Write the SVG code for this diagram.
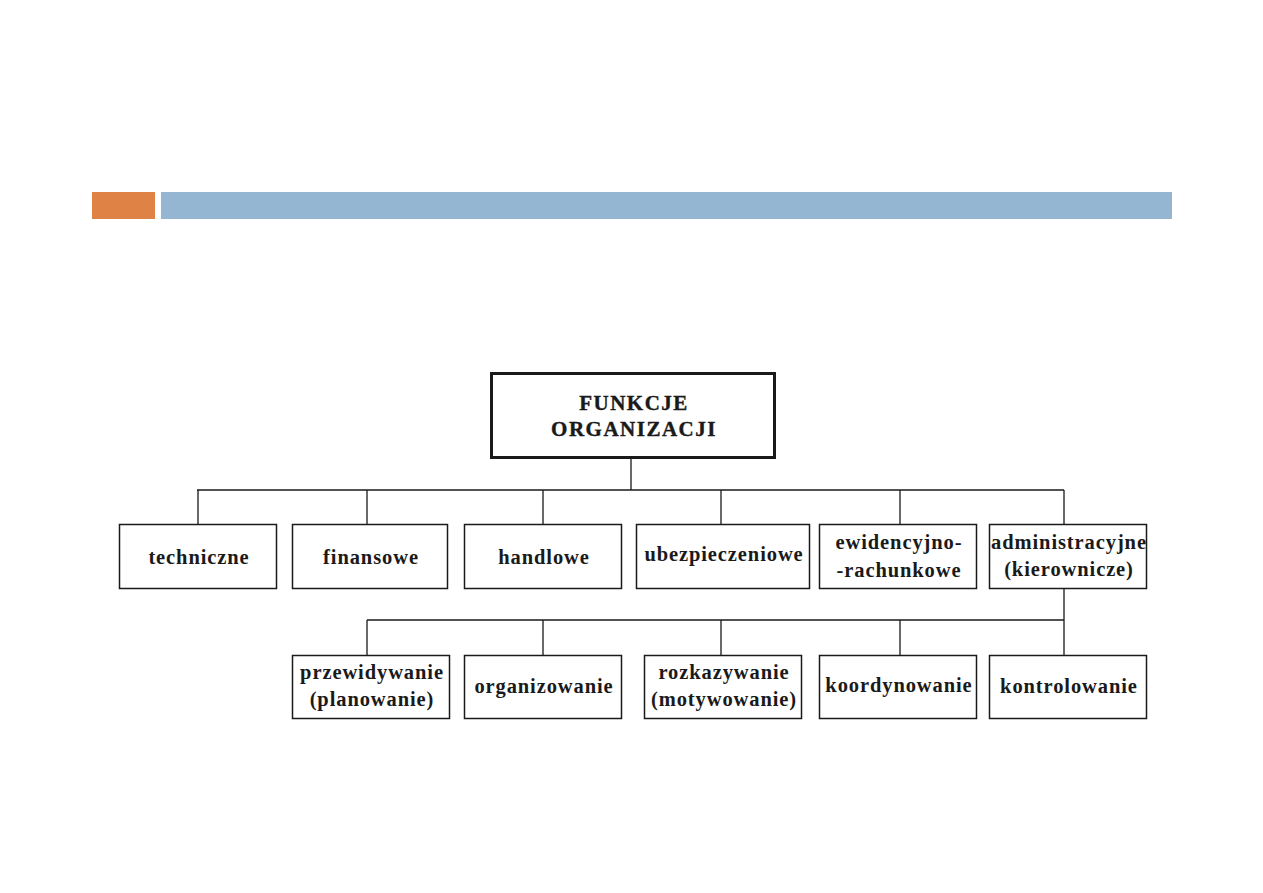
<svg xmlns="http://www.w3.org/2000/svg" width="1263" height="893" viewBox="0 0 1263 893">
<style>
.box{fill:#fff;stroke:#1a1a1a;stroke-width:1.5}
.top{fill:#fff;stroke:#1a1a1a;stroke-width:3}
.lbl{font-family:"Liberation Serif","DejaVu Serif",serif;font-weight:bold;font-size:20.5px;letter-spacing:0.9px;fill:#1a1a1a;text-anchor:middle}
.ttl{font-family:"Liberation Serif","DejaVu Serif",serif;font-weight:bold;font-size:21px;letter-spacing:1.5px;fill:#1a1a1a;text-anchor:middle;stroke:#1a1a1a;stroke-width:0.4}
.con{fill:none;stroke:#1a1a1a;stroke-width:1.3}
</style>
<rect width="1263" height="893" fill="#fff"/>
<rect x="92" y="192" width="63" height="27" fill="#df8246"/>
<rect x="161" y="192" width="1011" height="27" fill="#95b6d3"/>
<g id="connectors">
<path class="con" d="M631 458V490M197 490H1064M198 490V524M367 490V524M543 490V524M721 490V524M900 490V524M1064 490V524"/>
<path class="con" d="M1064 588V655M367 620H1064M367 620V655M543 620V655M721 620V655M900 620V655"/>
</g>
<g id="n-root"><rect class="top" x="491.5" y="373.5" width="283" height="84"/><text class="ttl" x="634" y="410">FUNKCJE</text><text class="ttl" x="634" y="436">ORGANIZACJI</text></g>
<g id="n-techniczne"><rect class="box" x="119.5" y="524.5" width="157" height="64"/><text class="lbl" x="199" y="564">techniczne</text></g>
<g id="n-finansowe"><rect class="box" x="292.5" y="524.5" width="155" height="64"/><text class="lbl" x="371" y="564">finansowe</text></g>
<g id="n-handlowe"><rect class="box" x="464.5" y="524.5" width="157" height="64"/><text class="lbl" x="544" y="564">handlowe</text></g>
<g id="n-ubezpieczeniowe"><rect class="box" x="636.5" y="524.5" width="173" height="64"/><text class="lbl" x="724" y="561">ubezpieczeniowe</text></g>
<g id="n-ewidencyjno"><rect class="box" x="819.5" y="524.5" width="157" height="64"/><text class="lbl" x="899" y="549">ewidencyjno-</text><text class="lbl" x="899" y="577">-rachunkowe</text></g>
<g id="n-administracyjne"><rect class="box" x="989.5" y="524.5" width="157" height="64"/><text class="lbl" x="1069" y="549">administracyjne</text><text class="lbl" x="1069" y="576">(kierownicze)</text></g>
<g id="n-przewidywanie"><rect class="box" x="292.5" y="655.5" width="157" height="63"/><text class="lbl" x="372" y="679">przewidywanie</text><text class="lbl" x="372" y="706">(planowanie)</text></g>
<g id="n-organizowanie"><rect class="box" x="464.5" y="655.5" width="157" height="63"/><text class="lbl" x="544" y="693">organizowanie</text></g>
<g id="n-rozkazywanie"><rect class="box" x="644.5" y="655.5" width="157" height="63"/><text class="lbl" x="724" y="679">rozkazywanie</text><text class="lbl" x="724" y="706">(motywowanie)</text></g>
<g id="n-koordynowanie"><rect class="box" x="819.5" y="655.5" width="157" height="63"/><text class="lbl" x="899" y="692">koordynowanie</text></g>
<g id="n-kontrolowanie"><rect class="box" x="989.5" y="655.5" width="157" height="63"/><text class="lbl" x="1069" y="693">kontrolowanie</text></g>
</svg>
